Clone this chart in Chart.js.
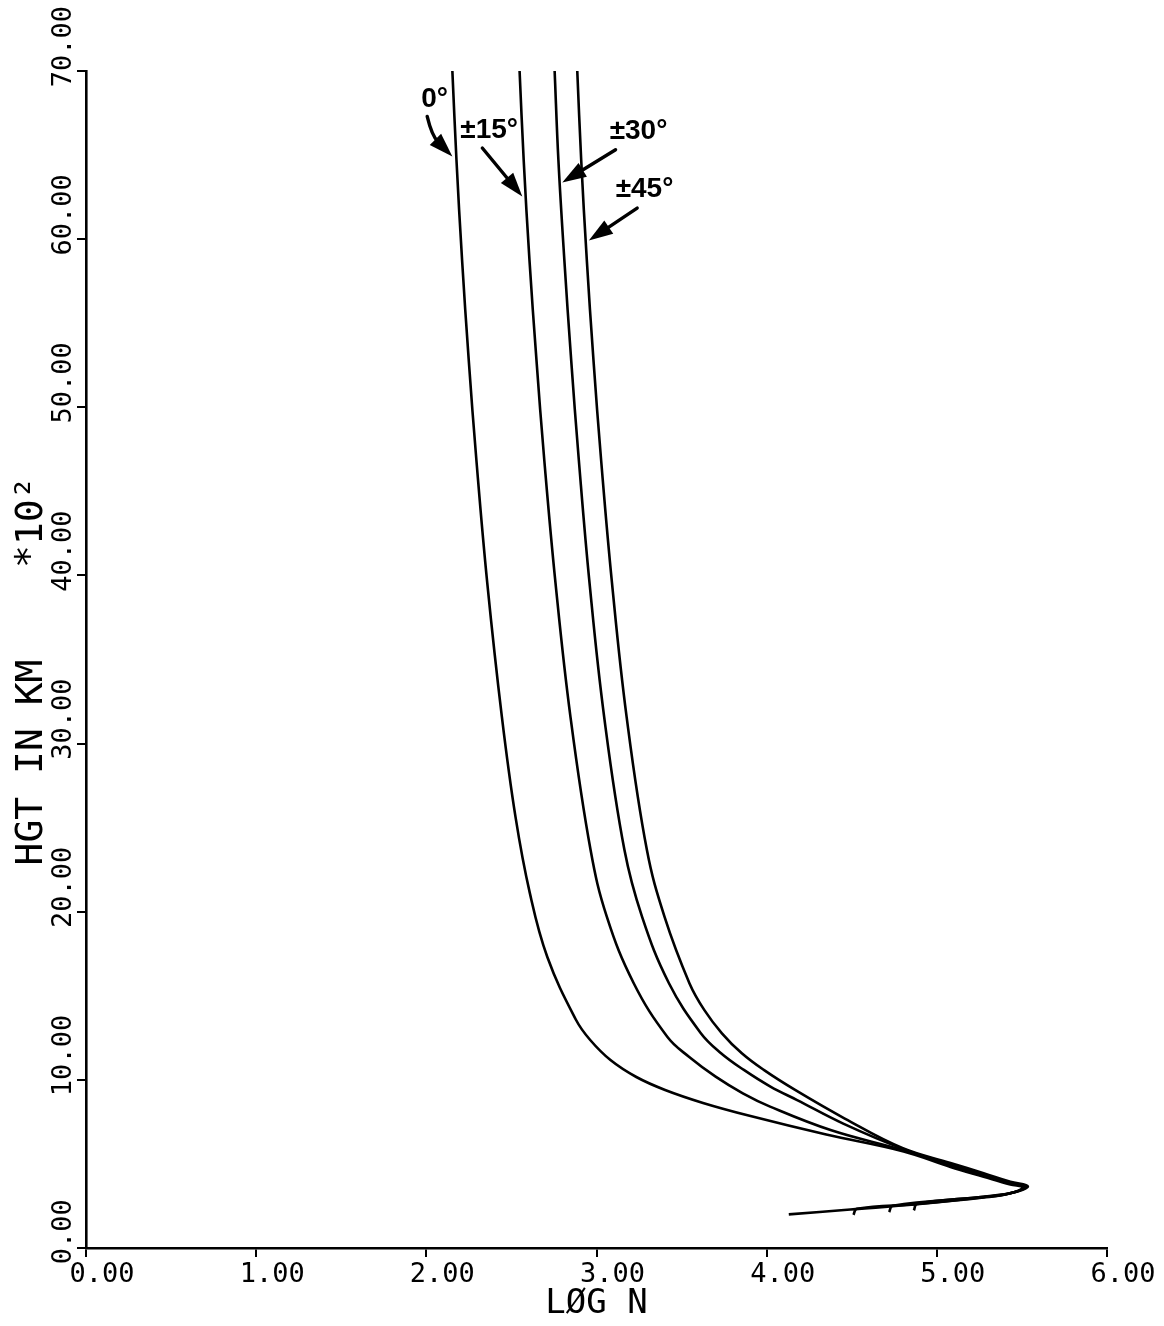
<!DOCTYPE html>
<html>
<head>
<meta charset="utf-8">
<title>Log N vs height</title>
<script src="https://cdn.jsdelivr.net/npm/chart.js@4/dist/chart.umd.min.js"></script>
<style>
  html, body { margin: 0; padding: 0; background: #fff; }
  #chart { display: block; }
</style>
</head>
<body>
<canvas id="chart" width="1164" height="1326"></canvas>
<script>
// Curves, top (70) down to the nose and back along the lower branch.
// Height in km * 10^2, log N on x.
const hgt0  = [70, 64.72, 58.77, 52.83, 46.88, 39.56, 31.59, 25.64, 21.12, 17.31, 13.56, 12.37, 11.18, 10.17, 9.4, 8.63, 7.85, 6.75, 5.74, 4.82, 4.24, 3.78, 3.6, 3.24, 3.0, 2.6, 2.29, 2.0];
const logN0 = [2.153, 2.177, 2.21, 2.249, 2.294, 2.358, 2.444, 2.524, 2.608, 2.711, 2.88, 2.963, 3.082, 3.234, 3.403, 3.626, 3.905, 4.35, 4.805, 5.08, 5.275, 5.432, 5.505, 5.428, 5.275, 4.884, 4.492, 4.13];

const hgt15  = [70, 64.72, 58.77, 52.83, 46.88, 39.56, 31.59, 23.68, 19.69, 15.76, 12.55, 11.36, 10.19, 9.2, 8.41, 7.0, 5.81, 4.9, 4.31, 3.83, 3.62, 3.26, 3.02, 2.62, 2.33, 1.97];
const logN15 = [2.548, 2.572, 2.606, 2.647, 2.693, 2.759, 2.847, 2.965, 3.061, 3.218, 3.417, 3.545, 3.7, 3.86, 4.02, 4.38, 4.805, 5.08, 5.275, 5.432, 5.515, 5.432, 5.275, 4.884, 4.53, 4.51];

const hgt30  = [70, 64.72, 58.77, 52.83, 46.88, 39.56, 31.59, 23.68, 19.69, 15.76, 12.79, 11.6, 10.59, 9.6, 8.8, 7.4, 5.88, 4.98, 4.38, 3.88, 3.64, 3.27, 3.04, 2.51, 2.13];
const logN30 = [2.754, 2.776, 2.811, 2.851, 2.896, 2.959, 3.045, 3.164, 3.268, 3.425, 3.612, 3.73, 3.866, 4.022, 4.179, 4.45, 4.805, 5.08, 5.275, 5.432, 5.525, 5.436, 5.275, 4.74, 4.72];

const hgt45  = [70, 64.72, 58.77, 52.83, 46.88, 39.56, 31.59, 23.68, 19.69, 15.75, 14.16, 12.77, 11.58, 10.59, 9.4, 7.7, 5.95, 5.06, 4.45, 3.94, 3.66, 3.28, 3.05, 2.63, 2.24];
const logN45 = [2.887, 2.91, 2.943, 2.982, 3.027, 3.091, 3.177, 3.296, 3.4, 3.546, 3.633, 3.737, 3.854, 3.983, 4.167, 4.459, 4.797, 5.08, 5.275, 5.432, 5.535, 5.44, 5.275, 4.884, 4.865];

// Axis ticks
const xTicks = [0, 1, 2, 3, 4, 5, 6];
const yTicks = [0, 10, 20, 30, 40, 50, 60, 70];

// Curve labels and their arrows (data units)
const noteText = ['0°', '±15°', '±30°', '±45°'];
const noteX = [2.049, 2.369, 3.247, 3.282];
const noteY = [68.29, 66.45, 66.39, 62.94];
const arrowFrom = [[2.005, 67.3], [2.329, 65.42], [3.112, 65.32], [3.239, 61.85]];
const arrowTo = [[2.153, 64.92], [2.564, 62.54], [2.799, 63.37], [2.955, 59.92]];
const arrowBend = [[2.032, 66.15], null, null, null];

const toPoints = (xs, ys) => xs.map((x, i) => ({ x: x, y: ys[i] }));

const curve = (label, xs, ys) => ({
    label: label,
    data: toPoints(xs, ys),
    showLine: true,
    borderColor: '#000',
    borderWidth: 2.6,
    pointRadius: 0,
    tension: 0.4,
    fill: false
});

// draws the hand-lettered curve labels with arrows
const notesPlugin = {
    id: 'notes',
    afterDatasetsDraw(chart) {
        const ctx = chart.ctx;
        const xs = chart.scales.x, ys = chart.scales.y;
        ctx.save();
        ctx.fillStyle = '#000';
        ctx.strokeStyle = '#000';
        ctx.font = 'bold 28px "Liberation Sans", Arial, sans-serif';
        ctx.textAlign = 'center';
        ctx.textBaseline = 'middle';
        noteText.forEach((t, i) => {
            ctx.fillText(t, xs.getPixelForValue(noteX[i]), ys.getPixelForValue(noteY[i]));
        });

        ctx.lineWidth = 3.4;
        ctx.lineCap = 'round';
        arrowFrom.forEach((from, i) => {
            const sx = xs.getPixelForValue(from[0]), sy = ys.getPixelForValue(from[1]);
            const tx = xs.getPixelForValue(arrowTo[i][0]), ty = ys.getPixelForValue(arrowTo[i][1]);
            let cx = sx, cy = sy;
            if (arrowBend[i]) {
                cx = xs.getPixelForValue(arrowBend[i][0]);
                cy = ys.getPixelForValue(arrowBend[i][1]);
            }
            let dx = tx - cx, dy = ty - cy;
            const len = Math.hypot(dx, dy);
            dx /= len; dy /= len;
            const headLen = 24, headHalf = 8;
            const bx = tx - dx * headLen, by = ty - dy * headLen;

            ctx.beginPath();
            ctx.moveTo(sx, sy);
            if (arrowBend[i]) {
                ctx.quadraticCurveTo(cx, cy, bx + dx * 4, by + dy * 4);
            } else {
                ctx.lineTo(bx + dx * 4, by + dy * 4);
            }
            ctx.stroke();

            ctx.beginPath();
            ctx.moveTo(tx, ty);
            ctx.lineTo(bx - dy * headHalf, by + dx * headHalf);
            ctx.lineTo(bx + dy * headHalf, by - dx * headHalf);
            ctx.closePath();
            ctx.fill();
        });
        ctx.restore();
    }
};

const tickFont = { family: '"DejaVu Sans Mono", monospace', size: 27 };

new Chart(document.getElementById('chart'), {
    type: 'scatter',
    data: {
        datasets: [
            curve('0°', logN0, hgt0),
            curve('±15°', logN15, hgt15),
            curve('±30°', logN30, hgt30),
            curve('±45°', logN45, hgt45)
        ]
    },
    options: {
        responsive: false,
        devicePixelRatio: 1,
        animation: false,
        layout: { padding: { left: 0, top: 71, right: 57, bottom: 0 } },
        plugins: {
            legend: { display: false },
            tooltip: { enabled: false }
        },
        scales: {
            x: {
                type: 'linear',
                min: 0,
                max: 6,
                afterBuildTicks: (scale) => { scale.ticks = xTicks.map(v => ({ value: v })); },
                afterFit: (scale) => {
                    scale.height = 78;
                    scale.paddingLeft = 0; scale.paddingRight = 0;
                },
                border: { color: '#000', width: 2.6 },
                grid: { drawOnChartArea: false, color: '#000', lineWidth: 2, tickLength: 9 },
                ticks: {
                    color: '#000',
                    font: tickFont,
                    maxRotation: 0,
                    autoSkip: false,
                    padding: 2,
                    labelOffset: 16,
                    callback: (v) => Number(v).toFixed(2)
                },
                title: {
                    display: true,
                    text: 'LØG N',
                    color: '#000',
                    font: { family: '"DejaVu Sans Mono", monospace', size: 34 },
                    padding: { top: 0, bottom: 1 }
                }
            },
            y: {
                type: 'linear',
                min: 0,
                max: 70,
                afterBuildTicks: (scale) => { scale.ticks = yTicks.map(v => ({ value: v })); },
                afterFit: (scale) => {
                    scale.width = 86;
                    scale.paddingTop = 0; scale.paddingBottom = 0;
                },
                border: { color: '#000', width: 2.6 },
                grid: { drawOnChartArea: false, color: '#000', lineWidth: 2, tickLength: 9 },
                ticks: {
                    color: '#000',
                    font: tickFont,
                    minRotation: 90,
                    maxRotation: 90,
                    autoSkip: false,
                    padding: 13,
                    labelOffset: -65,
                    callback: (v) => Number(v).toFixed(2).padEnd(5, ' ')
                },
                title: {
                    display: true,
                    text: 'HGT IN KM    *10² ',
                    color: '#000',
                    font: { family: '"DejaVu Sans Mono", monospace', size: 38 },
                    padding: { top: 9, bottom: 0 }
                }
            }
        }
    },
    plugins: [notesPlugin]
});
</script>
</body>
</html>
